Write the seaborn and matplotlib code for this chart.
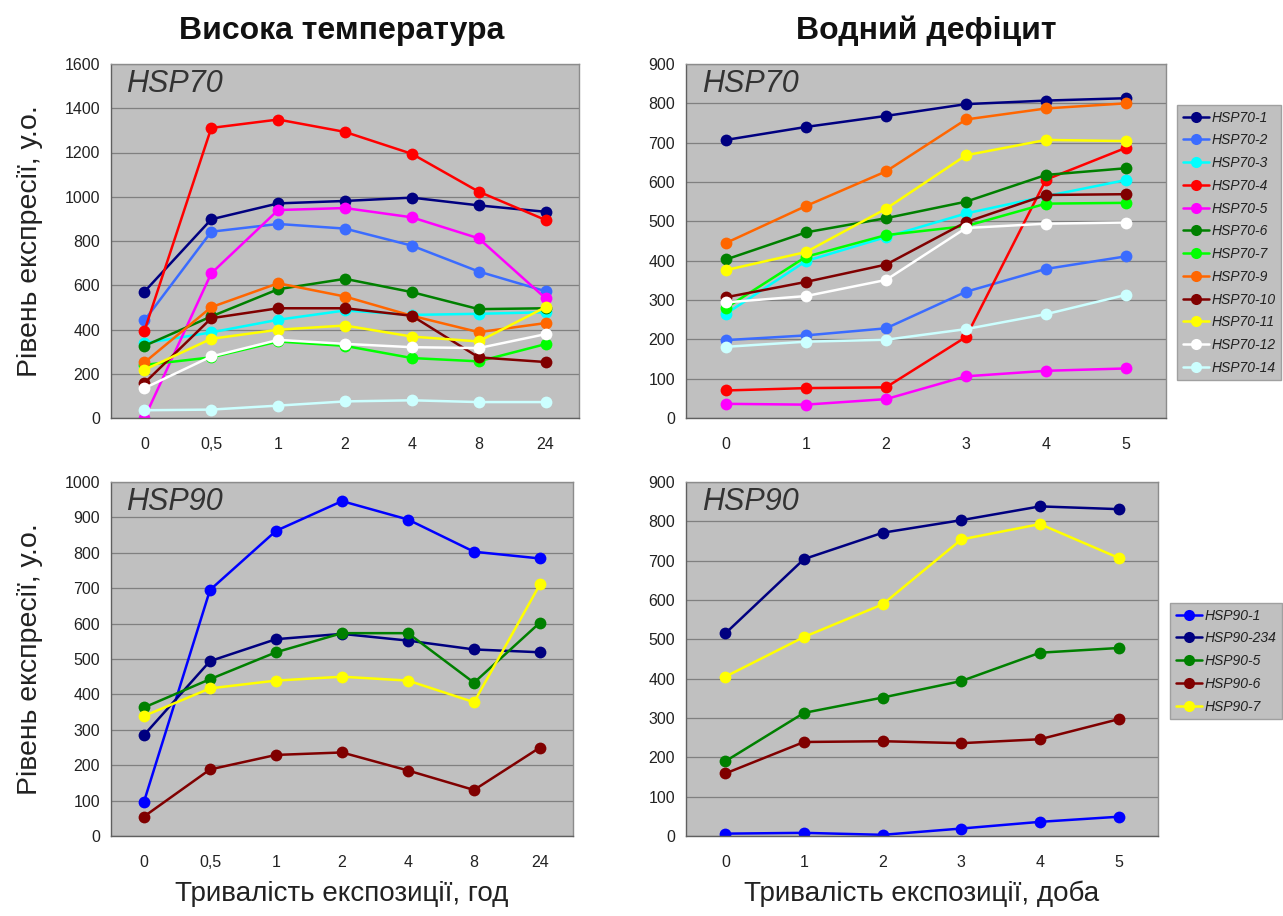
import matplotlib
matplotlib.use('Agg')
import matplotlib.pyplot as plt
import pandas as pd
import seaborn as sns
from matplotlib.lines import Line2D

# Categories on the x axes
heat_times = ['0', '0,5', '1', '2', '4', '8', '24']
drought_days = ['0', '1', '2', '3', '4', '5']

# Genes and their colours
hsp70_genes = ['HSP70-1', 'HSP70-2', 'HSP70-3', 'HSP70-4', 'HSP70-5', 'HSP70-6',
               'HSP70-7', 'HSP70-9', 'HSP70-10', 'HSP70-11', 'HSP70-12', 'HSP70-14']
hsp70_colors = ['#000080', '#3B6CFF', '#00FFFF', '#FF0000', '#FF00FF', '#008000',
                '#00FF00', '#FF6600', '#800000', '#FFFF00', '#FFFFFF', '#CCFFFF']
hsp90_genes = ['HSP90-1', 'HSP90-234', 'HSP90-5', 'HSP90-6', 'HSP90-7']
hsp90_colors = ['#0000FF', '#000080', '#008000', '#800000', '#FFFF00']

# HSP70, high temperature (hours)
hsp70_heat = {
    'HSP70-1': [571, 898, 970, 981, 996, 961, 932],
    'HSP70-2': [441, 842, 877, 856, 779, 662, 573],
    'HSP70-3': [338, 387, 444, 486, 466, 471, 478],
    'HSP70-4': [394, 1311, 1349, 1293, 1194, 1023, 895],
    'HSP70-5': [0, 654, 940, 949, 907, 812, 541],
    'HSP70-6': [326, 459, 582, 629, 569, 492, 496],
    'HSP70-7': [240, 274, 346, 326, 271, 256, 334],
    'HSP70-9': [251, 501, 609, 549, 462, 388, 429],
    'HSP70-10': [158, 451, 496, 496, 462, 274, 253],
    'HSP70-11': [218, 358, 399, 418, 368, 346, 501],
    'HSP70-12': [135, 278, 353, 335, 320, 316, 379],
    'HSP70-14': [35, 38, 56, 75, 80, 72, 72],
}

# HSP70, water deficit (days)
hsp70_drought = {
    'HSP70-1': [707, 740, 768, 798, 807, 813],
    'HSP70-2': [198, 210, 228, 321, 379, 411],
    'HSP70-3': [265, 399, 460, 520, 564, 605],
    'HSP70-4': [70, 76, 78, 206, 606, 687],
    'HSP70-5': [36, 34, 48, 106, 120, 126],
    'HSP70-6': [403, 472, 508, 550, 618, 635],
    'HSP70-7': [280, 410, 465, 488, 545, 547],
    'HSP70-9': [445, 539, 627, 759, 787, 800],
    'HSP70-10': [307, 346, 390, 498, 567, 569],
    'HSP70-11': [376, 422, 532, 668, 707, 704],
    'HSP70-12': [294, 310, 351, 483, 494, 497],
    'HSP70-14': [181, 194, 199, 226, 264, 313],
}

# HSP90, high temperature (hours)
hsp90_heat = {
    'HSP90-1': [97, 695, 862, 946, 894, 803, 784],
    'HSP90-234': [285, 494, 556, 571, 552, 527, 519],
    'HSP90-5': [363, 443, 519, 573, 573, 433, 603],
    'HSP90-6': [55, 188, 229, 236, 185, 130, 250],
    'HSP90-7': [339, 417, 439, 450, 439, 378, 711],
}

# HSP90, water deficit (days)
hsp90_drought = {
    'HSP90-1': [6, 8, 3, 19, 36, 49],
    'HSP90-234': [515, 704, 771, 803, 838, 831],
    'HSP90-5': [190, 313, 352, 394, 466, 478],
    'HSP90-6': [159, 239, 241, 236, 246, 297],
    'HSP90-7': [405, 506, 589, 754, 793, 707],
}

sns.set_style('white')
plt.rcParams['font.family'] = ['Liberation Sans', 'DejaVu Sans']

W, H = 1283, 916


def box(left, right, top, bottom):
    return [left / W, 1 - bottom / H, (right - left) / W, (bottom - top) / H]


def draw_panel(ax, cats, data, genes, colors, ymax, ystep, tag):
    rows = []
    for g in genes:
        for i, v in enumerate(data[g]):
            rows.append({'gene': g, 'pos': i, 'value': v})
    df = pd.DataFrame(rows)
    sns.lineplot(data=df, x='pos', y='value', hue='gene', hue_order=genes,
                 palette=dict(zip(genes, colors)), marker='o', markersize=8.5,
                 markeredgewidth=0, linewidth=1.8, legend=False, sort=False, ax=ax)
    ax.set_facecolor('#C0C0C0')
    n = len(cats)
    ax.set_xlim(-0.5, n - 0.5)
    ax.set_ylim(0, ymax)
    ax.set_xticks(range(n))
    ax.set_xticklabels(cats)
    ax.set_xticks([i - 0.5 for i in range(n + 1)], minor=True)
    ax.set_yticks(range(0, ymax + 1, ystep))
    ax.tick_params(axis='x', which='major', length=0, pad=14, labelsize=11.5, labelcolor='#222222')
    ax.tick_params(axis='x', which='minor', length=5, direction='out', color='#606060')
    ax.tick_params(axis='y', length=5, direction='out', color='#606060', pad=3,
                   labelsize=11.5, labelcolor='#222222')
    ax.yaxis.grid(True, color='#808080', linewidth=0.9)
    ax.xaxis.grid(False)
    ax.set_axisbelow(True)
    for s in ax.spines.values():
        s.set_visible(True)
        s.set_color('#8c8c8c')
        s.set_linewidth(1.0)
    ax.spines['left'].set_color('#606060')
    ax.spines['bottom'].set_color('#606060')
    ax.set_xlabel('')
    ax.set_ylabel('')
    ax.text(0.033, 0.985, tag, transform=ax.transAxes, ha='left', va='top',
            fontsize=22, style='italic', color='#333333')


def add_legend(fig, genes, colors, x, y):
    handles = [Line2D([], [], color=c, marker='o', markersize=8, markeredgewidth=0,
                      linewidth=1.8) for c in colors]
    leg = fig.legend(handles, genes, loc='upper left', bbox_to_anchor=(x / W, 1 - y / H),
                     bbox_transform=fig.transFigure, frameon=True, fancybox=False,
                     framealpha=1, facecolor='#C0C0C0', edgecolor='#A0A0A0',
                     prop={'style': 'italic', 'size': 10}, handlelength=1.9,
                     handletextpad=0.2, labelspacing=0.63, borderpad=0.4,
                     borderaxespad=0)
    for t in leg.get_texts():
        t.set_color('#222222')
    return leg


fig = plt.figure(figsize=(W / 100, H / 100), dpi=100)
ax_tl = fig.add_axes(box(111, 579, 64, 418))
ax_tr = fig.add_axes(box(686, 1166, 64, 418))
ax_bl = fig.add_axes(box(111, 573, 482, 836))
ax_br = fig.add_axes(box(686, 1158, 482, 836))

draw_panel(ax_tl, heat_times, hsp70_heat, hsp70_genes, hsp70_colors, 1600, 200, 'HSP70')
draw_panel(ax_tr, drought_days, hsp70_drought, hsp70_genes, hsp70_colors, 900, 100, 'HSP70')
draw_panel(ax_bl, heat_times, hsp90_heat, hsp90_genes, hsp90_colors, 1000, 100, 'HSP90')
draw_panel(ax_br, drought_days, hsp90_drought, hsp90_genes, hsp90_colors, 900, 100, 'HSP90')

leg1 = add_legend(fig, hsp70_genes, hsp70_colors, 1177, 105)
leg2 = add_legend(fig, hsp90_genes, hsp90_colors, 1170, 603)

# Titles and axis labels
fig.text(342 / W, 1 - 31 / H, 'Висока температура', ha='center', va='center',
         fontsize=23, fontweight='bold', color='#111111')
fig.text(926 / W, 1 - 31 / H, 'Водний дефіцит', ha='center', va='center',
         fontsize=23, fontweight='bold', color='#111111')
fig.text(30 / W, 1 - 241 / H, 'Рівень експресії, у.о.', ha='center', va='center',
         rotation=90, fontsize=20.5, color='#222222')
fig.text(30 / W, 1 - 659 / H, 'Рівень експресії, у.о.', ha='center', va='center',
         rotation=90, fontsize=20.5, color='#222222')
fig.text(342 / W, 1 - 894 / H, 'Тривалість експозиції, год', ha='center', va='center',
         fontsize=20, color='#222222')
fig.text(922 / W, 1 - 894 / H, 'Тривалість експозиції, доба', ha='center', va='center',
         fontsize=20, color='#222222')

# Underline the legend labels
fig.canvas.draw()
renderer = fig.canvas.get_renderer()
inv = fig.transFigure.inverted()
for leg in (leg1, leg2):
    for t in leg.get_texts():
        bb = t.get_window_extent(renderer)
        (x0, y0), (x1, _) = inv.transform([[bb.x0, bb.y0 - 1], [bb.x1, bb.y0]])
        fig.add_artist(Line2D([x0, x1], [y0, y0], transform=fig.transFigure,
                              color='#333333', linewidth=0.9))

fig.savefig('out.png', dpi=100)
